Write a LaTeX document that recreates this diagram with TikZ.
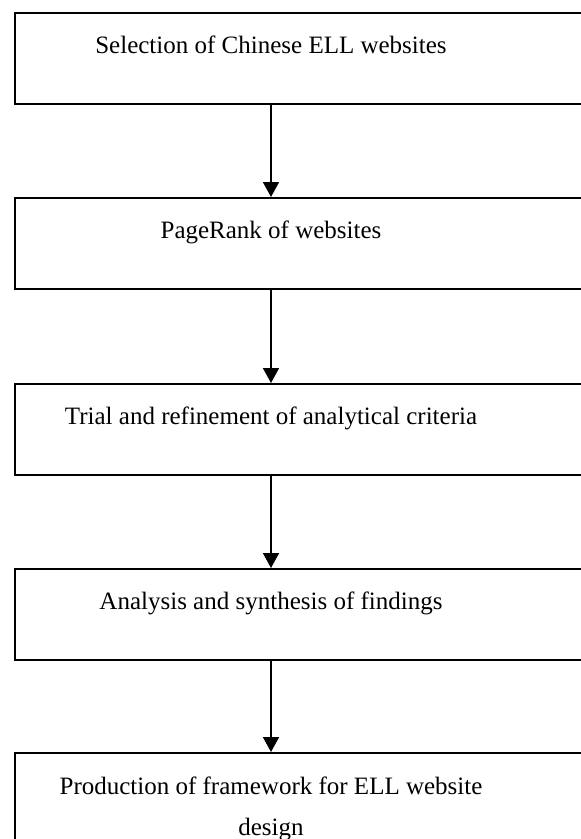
\documentclass[tikz,border=0pt]{standalone}
\usepackage{fontspec}
\setmainfont{Liberation Serif}
\usetikzlibrary{arrows.meta}
\begin{document}
\begin{tikzpicture}[x=1pt,y=-1pt,
  box/.style={draw, line width=1.8pt, minimum width=620pt, minimum height=91pt, inner sep=0pt, anchor=north west},
  lbl/.style={font=\fontsize{25}{41}\selectfont, anchor=base, align=center, inner sep=0pt},
  conn/.style={line width=1.8pt, -{Triangle[width=16pt,length=15pt]}}]
\useasboundingbox (0,0) rectangle (581,839);
\clip (0,0) rectangle (581,839);
\fill[white] (0,0) rectangle (581,839);
\coordinate (ax) at (271,0);
\node[box] (b1) at (14,12) {};
\node[box] (b2) at (14,197) {};
\node[box] (b3) at (14,383) {};
\node[box] (b4) at (14,568) {};
\node[box] (b5) at (14,752) {};
\node[lbl] (t1) at (271,53) {Selection of Chinese ELL websites};
\node[lbl] (t2) at (271,238) {PageRank of websites};
\node[lbl] (t3) at (271,424) {Trial and refinement of analytical criteria};
\node[lbl] (t4) at (271,609) {Analysis and synthesis of findings};
\node[lbl] (t5) at (271,835) {Production of framework for ELL website\\design};
\draw[conn] (b1.south -| ax) -- (b2.north -| ax);
\draw[conn] (b2.south -| ax) -- (b3.north -| ax);
\draw[conn] (b3.south -| ax) -- (b4.north -| ax);
\draw[conn] (b4.south -| ax) -- (b5.north -| ax);
\end{tikzpicture}
\end{document}
